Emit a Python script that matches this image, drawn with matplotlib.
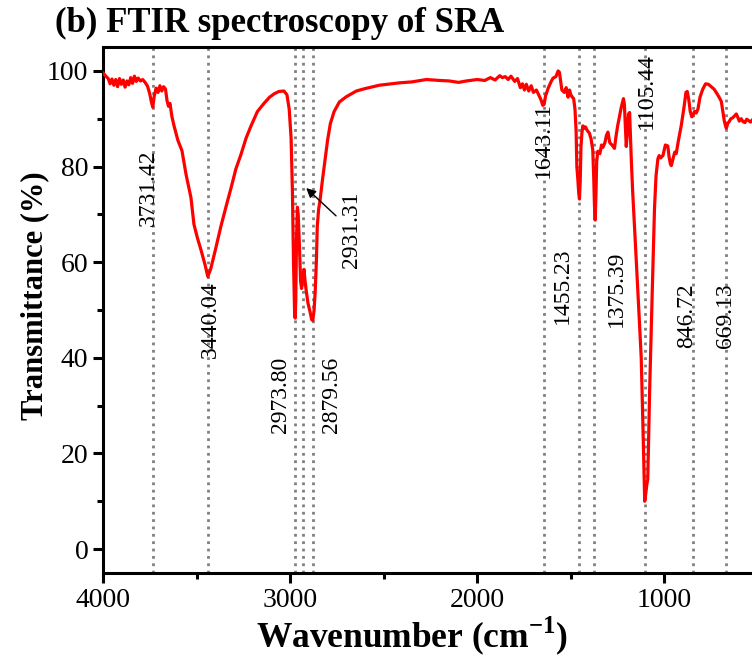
import numpy as np
import matplotlib.pyplot as plt
from matplotlib.ticker import MultipleLocator

plt.rcParams['font.family'] = ['Liberation Serif', 'DejaVu Serif']
plt.rcParams['mathtext.fontset'] = 'custom'
plt.rcParams['mathtext.rm'] = 'Liberation Serif'
plt.rcParams['mathtext.bf'] = 'Liberation Serif:bold'

# FTIR spectrum of SRA (wavenumber in cm-1, transmittance in %)
wavenumber = [
    3998, 3985, 3972, 3962, 3952, 3942, 3932, 3922, 3912, 3902, 3892, 3882, 3872, 3862,
    3852, 3842, 3832, 3822, 3812, 3800, 3788, 3775, 3762, 3750, 3742, 3734, 3726, 3716,
    3706, 3696, 3686, 3676, 3666, 3658, 3650, 3642, 3632, 3621, 3600, 3578, 3556, 3530,
    3514, 3495, 3476, 3455, 3440, 3425, 3400, 3370, 3340, 3316, 3290, 3263, 3235, 3209,
    3175, 3140, 3110, 3086, 3060, 3033, 3017, 3005, 2995, 2988, 2982, 2976, 2973, 2970,
    2966, 2961, 2957, 2950, 2944, 2939, 2933, 2926, 2920, 2914, 2905, 2893, 2885, 2879,
    2872, 2866, 2860, 2855, 2848, 2840, 2828, 2815, 2800, 2785, 2765, 2737, 2700, 2646,
    2600, 2524, 2417, 2350, 2272, 2200, 2150, 2100, 2058, 2000, 1960, 1930, 1905, 1880,
    1866, 1850, 1835, 1820, 1800, 1785, 1770, 1759, 1748, 1738, 1725, 1712, 1700, 1684,
    1672, 1660, 1650, 1643, 1635, 1620, 1605, 1595, 1580, 1568, 1561, 1555, 1548, 1543,
    1535, 1525, 1515, 1507, 1500, 1492, 1485, 1478, 1472, 1468, 1463, 1458, 1454, 1450,
    1446, 1441, 1436, 1428, 1422, 1412, 1401, 1392, 1383, 1378, 1374, 1370, 1366, 1362,
    1356, 1345, 1336, 1329, 1318, 1310, 1302, 1292, 1280, 1267, 1258, 1250, 1240, 1230,
    1219, 1214, 1208, 1204, 1198, 1192, 1186, 1182, 1177, 1170, 1160, 1150, 1142, 1133,
    1124, 1115, 1108, 1105.4, 1100, 1094, 1089, 1084, 1079, 1072, 1065, 1058, 1053, 1045,
    1035, 1028, 1020, 1008, 995, 982, 975, 968, 963, 955, 945, 937, 925, 910,
    895, 885, 878, 870, 862, 854, 848, 840, 830, 821, 810, 795, 780, 765,
    750, 735, 720, 705, 696, 688, 680, 672, 669, 662, 654, 645, 635, 625,
    616, 608, 600, 590, 580, 570, 560, 550, 540, 530, 520, 510, 500]
transmittance = [
    99.5, 98.9, 98.4, 97.3, 98.3, 97.0, 98.2, 96.7, 98.4, 97.2, 98.1, 96.6, 97.9, 97.1,
    98.6, 97.4, 98.9, 97.8, 98.5, 97.9, 98.2, 97.6, 96.8, 95.2, 93.6, 92.4, 94.8, 96.4,
    95.5, 96.9, 95.8, 96.7, 96.2, 93.8, 92.6, 93.2, 90.5, 88.6, 85.5, 83.3, 78.3, 73.5,
    67.9, 65.0, 62.5, 59.5, 57.0, 58.5, 62.5, 67.5, 72.0, 75.5, 79.5, 82.5, 86.0, 88.5,
    91.5, 93.2, 94.5, 95.2, 95.7, 95.8, 95.0, 92.0, 86.0, 75.0, 60.0, 49.0, 48.3, 52.0,
    65.0, 71.5, 70.0, 63.0, 56.0, 54.5, 57.0, 58.5, 56.0, 54.0, 51.5, 49.5, 48.0, 47.8,
    50.0, 54.0, 60.0, 67.5, 71.0, 73.0, 77.0, 81.0, 85.5, 89.0, 91.5, 93.5, 94.6, 95.8,
    96.3, 97.0, 97.5, 97.7, 98.2, 98.0, 97.9, 97.6, 97.9, 98.2, 98.0, 98.6, 98.1, 99.0,
    98.6, 98.8, 98.2, 98.9, 97.8, 98.4, 96.5, 97.3, 96.0, 97.2, 95.8, 96.9, 95.5, 96.0,
    95.0, 94.0, 92.8, 93.0, 94.8, 96.5, 97.8, 98.5, 98.8, 100.0, 99.7, 98.0, 96.0, 95.8,
    95.5, 96.5, 94.5, 96.0, 95.0, 94.5, 94.2, 92.0, 87.5, 80.0, 77.5, 74.5, 73.2, 77.0,
    84.0, 87.0, 88.5, 88.0, 88.3, 87.5, 87.0, 85.8, 83.5, 78.0, 72.0, 68.8, 74.0, 81.0,
    83.2, 82.7, 84.5, 84.0, 85.0, 86.5, 87.2, 85.0, 84.5, 83.8, 86.5, 88.5, 90.5, 92.5,
    94.2, 93.0, 88.0, 84.2, 87.0, 91.0, 91.3, 87.0, 81.4, 75.0, 67.7, 60.0, 54.0, 47.0,
    40.0, 26.0, 14.0, 10.0, 11.5, 13.5, 14.6, 24.0, 33.2, 44.0, 54.0, 64.0, 71.3, 78.0,
    81.6, 82.3, 81.8, 82.3, 84.5, 84.3, 82.0, 80.5, 80.2, 81.5, 83.0, 82.7, 85.5, 88.6,
    92.5, 95.5, 95.7, 94.0, 91.5, 90.4, 90.6, 91.5, 91.2, 92.0, 94.5, 96.2, 97.3, 97.2,
    96.7, 96.2, 95.3, 94.3, 93.6, 91.5, 89.5, 88.3, 88.0, 89.0, 89.4, 90.0, 90.2, 90.6,
    91.0, 90.3, 89.5, 90.0, 89.4, 89.2, 89.9, 89.6, 89.3, 89.8, 89.6, 89.3, 89.6]

# assigned peaks and where their labels sit
peaks = [3731.42, 3440.04, 2973.80, 2931.31, 2879.56, 1643.11, 1455.23, 1375.39,
         1105.44, 846.72, 669.13]
label_x = [3755, 3428, 3053, 2673, 2781, 1647, 1545, 1256, 1095, 880, 673]
label_y = [75.5, 48, 32.3, 66.7, 32.3, 85.5, 55, 54.5, 95.8, 48.8, 48.8]

fig = plt.figure(figsize=(7.52, 6.61), dpi=100)
ax = fig.add_axes([103/752, 1 - 573/661, (758 - 103)/752, (573 - 47)/661])

for p in peaks:
    ax.axvline(p, color='#808080', ls=':', lw=2.0, zorder=1)

ax.plot(wavenumber, transmittance, color='red', lw=2.3, zorder=3)

for p, lx, ly in zip(peaks, label_x, label_y):
    txt = f'{p:.2f}'
    if p == 2931.31:
        ax.annotate(txt, xy=(2914, 75.5), xytext=(lx, ly), rotation=90,
                    ha='center', va='center', fontsize=17,
                    arrowprops=dict(arrowstyle='-|>', color='black', lw=1.0,
                                    mutation_scale=14, shrinkA=2, shrinkB=0))
    else:
        ax.text(lx, ly, txt, rotation=90, ha='center', va='center', fontsize=17,
                zorder=4)

ax.set_xlim(4000, 500)
ax.set_ylim(-5, 105)
ax.xaxis.set_major_locator(MultipleLocator(1000))
ax.xaxis.set_minor_locator(MultipleLocator(500))
ax.yaxis.set_major_locator(MultipleLocator(20))
ax.yaxis.set_minor_locator(MultipleLocator(10))
ax.tick_params(which='major', direction='out', length=7, width=2.2, labelsize=20)
ax.tick_params(which='minor', direction='out', length=4, width=2.2)
for s in ax.spines.values():
    s.set_linewidth(2.2)

fig.text(35/752, 1 - 296/661, 'Transmittance (%)', rotation=90, ha='center',
         va='center', fontsize=22, fontweight='bold')
fig.text(412/752, 1 - 636/661, r'Wavenumber (cm$^{\mathbf{-1}}$)', ha='center',
         va='center', fontsize=25.5, fontweight='bold')
fig.text(55/752, 1 - 7/661, '(b) FTIR spectroscopy of SRA', ha='left', va='top',
         fontsize=25, fontweight='bold')

fig.savefig('out.png', dpi=100)
